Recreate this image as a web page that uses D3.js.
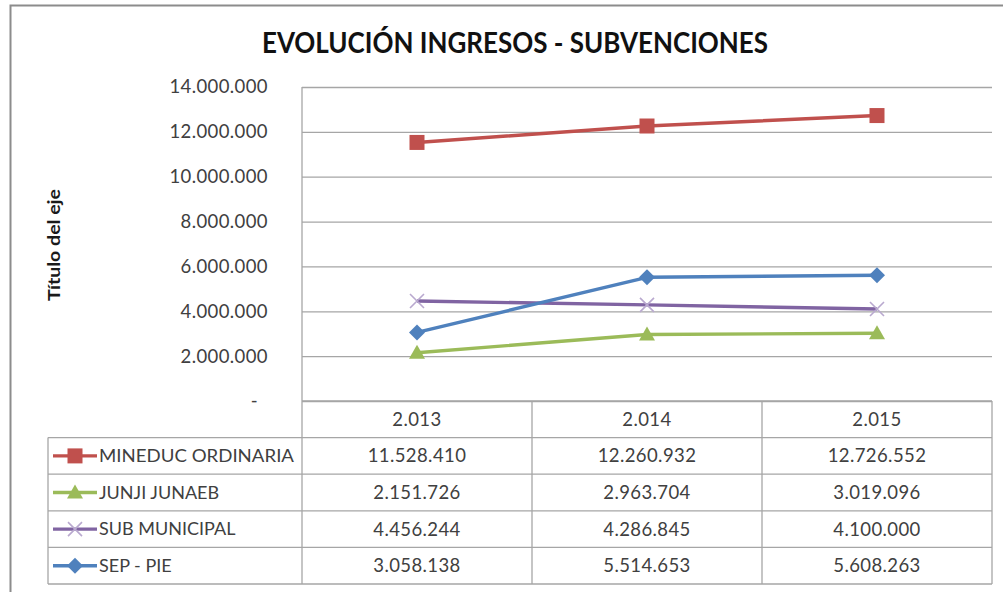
<!DOCTYPE html>
<html lang="es">
  <head>
    <meta charset="utf-8">
    <title>Evolución ingresos - subvenciones</title>
    <script src="https://cdn.jsdelivr.net/npm/d3@7"></script>
    <style>
      body { margin: 0; background: #fff; }
      svg text { font-family: Lato, "Open Sans", sans-serif; }
    </style>
  </head>
  <body>
    <div id="chart"></div>

    <script type="text/javascript">

      // data
      var years = ["2.013", "2.014", "2.015"]
      var seriesNames = ["MINEDUC ORDINARIA", "JUNJI JUNAEB", "SUB MUNICIPAL", "SEP - PIE"]
      var mineduc = [11528410, 12260932, 12726552]
      var junji   = [2151726, 2963704, 3019096]
      var subMun  = [4456244, 4286845, 4100000]
      var sepPie  = [3058138, 5514653, 5608263]
      var yTicks  = [0, 2000000, 4000000, 6000000, 8000000, 10000000, 12000000, 14000000]

      var seriesValues = [mineduc, junji, subMun, sepPie]
      var colors  = ["#C0504D", "#9BBB59", "#8064A2", "#4F81BD"]
      var symbols = ["square", "triangle", "x", "diamond"]

      var W = 1003, H = 592
      var pLeft = 302, pRight = 992, pTop = 87, pBottom = 401
      var rowH = 36.6
      var txtSize = "18.5px", txtSpacing = "0.4px"

      var loc = d3.formatLocale({decimal: ",", thousands: ".", grouping: [3], currency: ["$", ""]})
      var fmt = loc.format(",d")

      var svg = d3.select("#chart").append("svg")
          .attr("width", W)
          .attr("height", H)

      // outer chart frame
      svg.append("rect")
        .attr("x", 10.5).attr("y", 5.5)
        .attr("width", W + 10).attr("height", H + 10)
        .attr("fill", "none")
        .attr("stroke", "#8c8c8c")
        .attr("stroke-width", 2)

      var x = d3.scaleBand().domain(years).range([pLeft, pRight])
      var y = d3.scaleLinear().domain([0, 14000000]).range([pBottom, pTop])

      /*
       * Grid + y axis
       */
      var grid = svg.append("g")
        .attr("transform", "translate(" + pLeft + ",0)")
        .call(d3.axisLeft(y).tickValues(yTicks).tickSize(-(pRight - pLeft)).tickFormat(""))
      grid.select(".domain").remove()
      grid.selectAll("line").attr("stroke", "#a6a6a6").attr("stroke-width", 1.3)

      svg.append("line")
        .attr("x1", pLeft).attr("x2", pLeft)
        .attr("y1", pTop).attr("y2", pBottom)
        .attr("stroke", "#a6a6a6").attr("stroke-width", 1.3)

      var yAxis = svg.append("g")
        .attr("transform", "translate(" + pLeft + ",0)")
        .call(d3.axisLeft(y).tickValues(yTicks).tickSize(0).tickPadding(34)
          .tickFormat(function(d) { return d === 0 ? "-" : fmt(d) }))
      yAxis.select(".domain").remove()
      yAxis.selectAll("text")
        .attr("fill", "#404040")
        .style("font-size", txtSize)
        .style("letter-spacing", txtSpacing)
        .attr("dx", function(d) { return d === 0 ? -10 : 0 })

      svg.append("text")
        .attr("transform", "translate(60,245) rotate(-90)")
        .attr("text-anchor", "middle")
        .attr("fill", "#1a1a1a")
        .style("font-size", "17.5px")
        .style("font-weight", "bold")
        .attr("textLength", 112)
        .attr("lengthAdjust", "spacingAndGlyphs")
        .text("Título del eje")

      // title
      svg.append("text")
        .attr("x", 515).attr("y", 53)
        .attr("text-anchor", "middle")
        .attr("fill", "#111")
        .style("font-size", "28px")
        .style("font-weight", "bold")
        .attr("textLength", 506)
        .attr("lengthAdjust", "spacingAndGlyphs")
        .text("EVOLUCIÓN INGRESOS - SUBVENCIONES")

      /*
       * Markers
       */
      function drawMarker(g, type, color, cx, cy) {
        if (type === "square") {
          g.append("rect").attr("x", cx - 7.5).attr("y", cy - 7.5).attr("width", 15).attr("height", 15).attr("fill", color)
        } else if (type === "triangle") {
          g.append("path").attr("d", "M" + cx + "," + (cy - 8) + "L" + (cx + 8) + "," + (cy + 6) + "L" + (cx - 8) + "," + (cy + 6) + "Z").attr("fill", color)
        } else if (type === "diamond") {
          g.append("path").attr("d", "M" + cx + "," + (cy - 8) + "L" + (cx + 8) + "," + cy + "L" + cx + "," + (cy + 8) + "L" + (cx - 8) + "," + cy + "Z").attr("fill", color)
        } else {
          g.append("path").attr("d", "M" + (cx - 7) + "," + (cy - 7) + "L" + (cx + 7) + "," + (cy + 7) + "M" + (cx + 7) + "," + (cy - 7) + "L" + (cx - 7) + "," + (cy + 7))
            .attr("stroke", "#b9a9cf").attr("stroke-width", 1.6).attr("fill", "none")
        }
      }

      var line = d3.line()
        .x(function(d, i) { return x(years[i]) + x.bandwidth() / 2 })
        .y(function(d) { return y(d) })

      var plot = svg.append("g")
      seriesValues.forEach(function(vals, s) {
        plot.append("path")
          .datum(vals)
          .attr("d", line)
          .attr("fill", "none")
          .attr("stroke", colors[s])
          .attr("stroke-width", 3.4)
          .attr("stroke-linejoin", "round")
        vals.forEach(function(v, i) {
          drawMarker(plot, symbols[s], colors[s], x(years[i]) + x.bandwidth() / 2, y(v))
        })
      })

      /*
       * Data table
       */
      var table = svg.append("g")
      var tStroke = "#a6a6a6"
      var legendLeft = 48
      var tableBottom = pBottom + rowH * 5

      // horizontal lines
      for (var r = 0; r <= 5; r++) {
        table.append("line")
          .attr("x1", r === 0 ? pLeft : legendLeft).attr("x2", pRight)
          .attr("y1", pBottom + r * rowH).attr("y2", pBottom + r * rowH)
          .attr("stroke", tStroke).attr("stroke-width", 1.3)
      }
      // vertical lines
      years.forEach(function(yr) {
        table.append("line")
          .attr("x1", x(yr)).attr("x2", x(yr))
          .attr("y1", pBottom).attr("y2", tableBottom)
          .attr("stroke", tStroke).attr("stroke-width", 1.3)
      })
      table.append("line")
        .attr("x1", pRight).attr("x2", pRight)
        .attr("y1", pBottom).attr("y2", tableBottom)
        .attr("stroke", tStroke).attr("stroke-width", 1.3)
      table.append("line")
        .attr("x1", legendLeft).attr("x2", legendLeft)
        .attr("y1", pBottom + rowH).attr("y2", tableBottom)
        .attr("stroke", tStroke).attr("stroke-width", 1.3)

      // header
      years.forEach(function(yr) {
        table.append("text")
          .attr("x", x(yr) + x.bandwidth() / 2)
          .attr("y", pBottom + rowH / 2)
          .attr("dy", "0.35em")
          .attr("text-anchor", "middle")
          .attr("fill", "#404040")
          .style("font-size", txtSize)
          .style("letter-spacing", txtSpacing)
          .text(yr)
      })

      seriesValues.forEach(function(vals, s) {
        var cy = pBottom + rowH * (s + 1) + rowH / 2
        table.append("line")
          .attr("x1", 53).attr("x2", 97)
          .attr("y1", cy).attr("y2", cy)
          .attr("stroke", colors[s]).attr("stroke-width", 3.4)
        drawMarker(table, symbols[s], colors[s], 75, cy)
        table.append("text")
          .attr("x", 99).attr("y", cy)
          .attr("dy", "0.35em")
          .attr("fill", "#404040")
          .style("font-size", "18px")
          .attr("textLength", s === 0 ? 195 : null)
          .attr("lengthAdjust", "spacingAndGlyphs")
          .text(seriesNames[s])
        vals.forEach(function(v, i) {
          table.append("text")
            .attr("x", x(years[i]) + x.bandwidth() / 2)
            .attr("y", cy)
            .attr("dy", "0.35em")
            .attr("text-anchor", "middle")
            .attr("fill", "#404040")
            .style("font-size", txtSize)
            .style("letter-spacing", txtSpacing)
            .text(fmt(v))
        })
      })

    </script>
  </body>
</html>
